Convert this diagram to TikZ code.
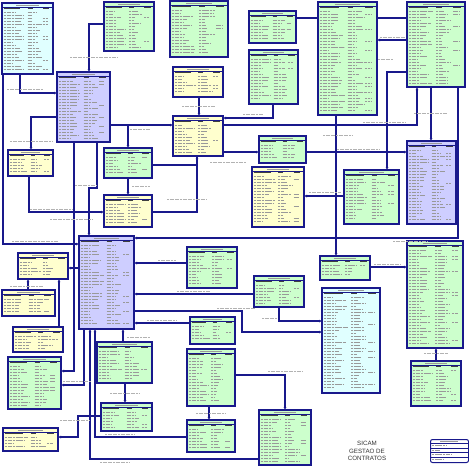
\documentclass[tikz,border=0pt]{standalone}
\usepackage{fontspec}
\setmainfont{Liberation Sans}
\usetikzlibrary{arrows.meta}
\definecolor{navy}{RGB}{25,25,140}
\definecolor{cy}{RGB}{224,255,255}
\definecolor{gr}{RGB}{204,255,204}
\definecolor{lv}{RGB}{206,206,255}
\definecolor{yl}{RGB}{255,255,206}
\pgfdeclarelayer{back}
\pgfsetlayers{back,main}
\tikzset{
 tbox/.style={draw=navy,line width=1.4pt,inner sep=0pt,outer sep=0pt,rectangle},
 gk/.style={draw=black!40,line width=0.8pt,dash pattern=on 2.2pt off 0.5pt},
 gkh/.style={draw=black!75,line width=0.9pt},
 gkt/.style={draw=black!40,line width=0.8pt},
 conn/.style={draw=navy,line width=1.2pt},
 arr/.style={-{Latex[length=3pt,width=3pt]}},
 lab/.style={draw=black!30,line width=0.7pt,dash pattern=on 2pt off 0.6pt},
}
\pgfmathsetseed{12}
\newcommand\tbl[6]{%
 \node[tbox,fill=#6,anchor=north west,minimum width={(#4)-(#2)},minimum height={(#5)-(#3)}] (#1) at (#2,#3) {};
 \pgfmathsetmacro\tw{#4-#2}%
 \draw[gkt] ({#2+0.28*\tw},{#3+2.2}) -- ({#2+0.72*\tw},{#3+2.2});
 \draw[navy,line width=0.6pt] (#2,{#3+3.8}) -- (#4,{#3+3.8});
 \draw[gkh] ({#2+1.5},{#3+5.8}) -- ({#2+0.36*\tw},{#3+5.8});
 \draw[gkh] ({#2+0.5*\tw},{#3+5.8}) -- ({#2+0.6*\tw},{#3+5.8});
 \draw[gkh] ({#2+0.8*\tw},{#3+5.8}) -- ({#2+0.93*\tw},{#3+5.8});
 \pgfmathtruncatemacro\tn{((#5)-(#3)-9.5)/3}%
 \foreach \i in {1,...,\tn}{%
   \pgfmathsetmacro\ry{#3+6.6+3*\i}%
   \pgfmathsetmacro\la{0.15+0.27*rnd}%
   \pgfmathsetmacro\lb{0.08+0.2*rnd}%
   \pgfmathsetmacro\pc{rnd}%
   \draw[gk] ({#2+1.8},\ry) -- ({#2+1.8+\la*\tw},\ry);
   \draw[gk] ({#2+0.5*\tw},\ry) -- ({#2+(0.5+\lb)*\tw},\ry);
   \ifdim\pc pt<0.3pt \draw[gk] ({#2+0.8*\tw},\ry) -- ({#2+0.9*\tw},\ry);\fi
 }%
}
\newcommand\lbl[3]{\draw[lab] (#1,#3) -- ++(#2,0);}
\begin{document}
\begin{tikzpicture}[x=1pt,y=-1pt]
\begin{pgfonlayer}{back}
\fill[white] (0,0) rectangle (469,467);
\end{pgfonlayer}
\useasboundingbox (0,0) rectangle (469,467);
% tables
\tbl{A}{2}{3}{53}{74}{cy}
\tbl{B}{104}{2}{154}{51}{gr}
\tbl{F}{170}{1}{228}{57}{gr}
\tbl{G}{249}{11}{296}{43}{gr}
\tbl{H}{249}{50}{298}{104}{gr}
\tbl{L}{318}{2}{377}{115}{gr}
\tbl{M}{407}{2}{465}{87}{gr}
\tbl{C}{57}{72}{110}{142}{lv}
\tbl{I}{173}{67}{223}{97}{yl}
\tbl{J}{173}{116}{223}{156}{yl}
\tbl{K}{259}{136}{306}{163}{gr}
\tbl{N}{407}{141}{456}{224}{lv}
\tbl{D}{8}{150}{53}{176}{yl}
\tbl{E}{104}{148}{152}{178}{gr}
\tbl{Y}{104}{195}{152}{227}{yl}
\tbl{O}{252}{167}{304}{227}{yl}
\tbl{R}{344}{170}{399}{224}{gr}
\tbl{V}{79}{236}{134}{329}{lv}
\tbl{W}{18}{253}{68}{279}{yl}
\tbl{X}{2}{290}{55}{316}{yl}
\tbl{P}{187}{247}{237}{288}{gr}
\tbl{Q}{254}{276}{304}{307}{gr}
\tbl{S}{320}{256}{370}{280}{gr}
\tbl{T}{407}{241}{463}{348}{gr}
\tbl{U}{322}{288}{380}{393}{cy}
\tbl{Z}{13}{327}{63}{352}{yl}
\tbl{AA}{8}{357}{61}{409}{gr}
\tbl{AB}{97}{342}{152}{383}{gr}
\tbl{AC}{101}{403}{152}{431}{gr}
\tbl{AD}{3}{428}{58}{451}{yl}
\tbl{AE}{190}{317}{235}{344}{gr}
\tbl{AF}{187}{349}{235}{406}{gr}
\tbl{AG}{187}{420}{235}{452}{gr}
\tbl{AH}{259}{410}{311}{465}{gr}
\tbl{AJ}{411}{361}{461}{406}{gr}
% legend
\node[draw=navy,line width=1pt,rounded corners=2pt,fill=white,anchor=north west,minimum width=38,minimum height=23,inner sep=0pt] (LG) at (430,439) {};
\foreach \yy in {443.5,448,452.5,457} {\draw[navy,line width=0.6pt] (430,\yy) -- (468,\yy);}
\draw[gkt] (440,441.3) -- (458,441.3);
\draw[gk] (432,445.8) -- (446,445.8);
\draw[gk] (432,450.3) -- (440,450.3);
\draw[gk] (432,454.8) -- (452,454.8);
\draw[gk] (432,459.3) -- (444,459.3);
% title
\node[font=\fontsize{6.2}{7.4}\selectfont,text=black!80,align=center,inner sep=0pt] (TT) at (367,451) {SICAM\\GESTAO DE\\CONTRATOS};
% connectors
\begin{pgfonlayer}{back}
\draw[conn,arr] (A.south -| 3,0) -- (3,244) -- (V.west |- 0,244);
\draw[conn,arr] (A.south -| 20,0) -- (20,93) -- (C.west |- 0,93);
\draw[conn,arr] (B.west |- 0,24) -- (89,24) -- (C.north -| 89,0);
\draw[conn,arr] (C.west |- 0,117) -- (31,117) -- (D.north -| 31,0);
\draw[conn,arr] (C.east |- 0,125) -- (J.west |- 0,125);
\draw[conn,arr] (C.east |- 0,125) -| (E.north -| 128,0);
\draw[conn,arr] (I.south -| 199,0) -- (J.north -| 199,0);
\draw[conn,arr] (H.south -| 273,0) -- (273,118) -- (J.east |- 0,118);
\draw[conn,arr] (J.east |- 0,125) -- (417,125) -- (M.south -| 417,0);
\draw[conn] (G.east |- 0,18) -- (L.west |- 0,18);
\draw[conn] (L.east |- 0,18) -- (M.west |- 0,18);
\draw[conn,arr] (M.west |- 0,40) -- (L.east |- 0,40);
\draw[conn,arr] (M.south -| 431,0) -- (N.north -| 431,0);
\draw[conn,arr] (M.south -| 458,0) -- (458,238) -- (V.east |- 0,238);
\draw[conn,arr] (L.south -| 336,0) -- (S.north -| 336,0);
\draw[conn,arr] (M.west |- 0,72) -- (387,72) -- (R.north -| 387,0);
\draw[conn,arr] (K.east |- 0,152) -- (N.west |- 0,152);
\draw[conn,arr] (J.east |- 0,152) -- (K.west |- 0,152);
\draw[conn,arr] (E.east |- 0,165) -| (J.south -| 197,0);
\draw[conn] (Y.east |- 0,212) -| (J.south -| 197,0);
\draw[conn,arr] (R.west |- 0,196) -- (O.east |- 0,196);
\draw[conn,arr] (S.east |- 0,267) -- (T.west |- 0,267);
\draw[conn,arr] (V.east |- 0,311) -- (242,311) -- (242,332) -- (U.west |- 0,332);
\draw[conn,arr] (Q.south -| 279,0) -- (279,321) -- (U.west |- 0,321);
\draw[conn,arr] (AJ.north -| 436,0) -- (T.south -| 436,0);
\draw[conn,arr] (AF.east |- 0,375) -- (285,375) -- (AH.north -| 285,0);
\draw[conn,arr] (AF.south -| 209,0) -- (AG.north -| 209,0);
\draw[conn,arr] (AH.west |- 0,459) -- (90,459) -- (V.south -| 90,0);
\draw[conn,arr] (AG.west |- 0,437) -- (95,437) -- (V.south -| 95,0);
\draw[conn,arr] (V.south -| 84,0) -- (84,385) -- (AA.east |- 0,385);
\draw[conn,arr] (C.south -| 74,0) -- (74,371) -- (AA.east |- 0,371);
\draw[conn,arr] (V.west |- 0,268) -- (W.east |- 0,268);
\draw[conn,arr] (X.north -| 28,0) -- (W.south -| 28,0);
\draw[conn,arr] (Z.north -| 59,0) -- (W.south -| 59,0);
\draw[conn,arr] (AB.north -| 123,0) -- (V.south -| 123,0);
\draw[conn,arr] (AB.south -| 125,0) -- (AC.north -| 125,0);
\draw[conn,arr] (AC.west |- 0,416) -- (78,416) -- (78,437) -- (AD.east |- 0,437);
\draw[conn,arr] (P.west |- 0,263) -- (V.east |- 0,263);
\draw[conn,arr] (Q.west |- 0,294) -- (V.east |- 0,294);
\draw[conn,arr] (AE.west |- 0,323) -- (V.east |- 0,323);
\draw[conn,arr] (D.south -| 29,0) -- (29,212) -- (Y.west |- 0,212);
\draw[conn,arr] (E.south -| 128,0) -- (Y.north -| 128,0);
\draw[conn,arr] (C.south -| 97,0) -- (97,188) -- (89,188) -- (V.north -| 89,0);
\end{pgfonlayer}
% connector labels
\lbl{12}{46}{241}
\lbl{7}{36}{89}
\lbl{70}{47}{57}
\lbl{10}{43}{141}
\lbl{130}{20}{129}
\lbl{182}{33}{106}
\lbl{243}{20}{114}
\lbl{363}{42}{122}
\lbl{323}{30}{135}
\lbl{380}{25}{37}
\lbl{378}{15}{59}
\lbl{414}{33}{113}
\lbl{393}{35}{241}
\lbl{337}{43}{149}
\lbl{210}{36}{162}
\lbl{167}{40}{199}
\lbl{309}{32}{192}
\lbl{374}{27}{264}
\lbl{217}{38}{308}
\lbl{262}{15}{318}
\lbl{424}{24}{353}
\lbl{268}{34}{371}
\lbl{196}{30}{413}
\lbl{100}{30}{462}
\lbl{105}{30}{434}
\lbl{63}{28}{381}
\lbl{10}{33}{286}
\lbl{127}{23}{337}
\lbl{110}{30}{393}
\lbl{60}{30}{420}
\lbl{158}{18}{260}
\lbl{177}{33}{291}
\lbl{147}{30}{320}
\lbl{30}{43}{209}
\lbl{50}{42}{219}
\lbl{132}{18}{186}
\lbl{75}{22}{185}
\end{tikzpicture}
\end{document}
